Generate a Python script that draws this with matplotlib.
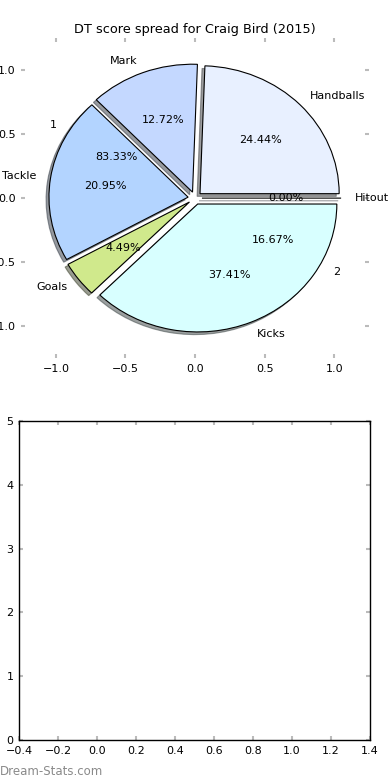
import matplotlib
matplotlib.use("Agg")
import matplotlib.pyplot as plt

# DT score breakdown (percent of total)
categories = ["Handballs", "Mark", "Tackle", "Goals", "Kicks", "Hitout"]
shares = [24.44, 12.72, 20.95, 4.49, 37.41, 0.00]
colors = ["#e8f0ff", "#c4d8ff", "#b3d4ff", "#d0e98c", "#d8ffff", "#e0e0ff"]

# second (hidden) pie that only leaves its labels behind
split_labels = ["1", "2"]
split_values = [83.33, 16.67]

pie_ticks = [-1.0, -0.5, 0.0, 0.5, 1.0]
bottom_xticks = [-0.4, -0.2, 0.0, 0.2, 0.4, 0.6, 0.8, 1.0, 1.2, 1.4]
bottom_yticks = [0, 1, 2, 3, 4, 5]

plt.rcParams["font.size"] = 8
plt.rcParams["font.family"] = "DejaVu Sans"

fig = plt.figure(figsize=(3.9, 7.8), dpi=100)


def style_ticks(ax):
    ax.tick_params(direction="in", length=3, width=1.5, color="#bbbbbb",
                   top=True, right=True, labelsize=8, pad=4)


# top: pie chart
ax1 = fig.add_axes([0.054, 0.541, 0.892, 0.410])
ax1.pie(shares, labels=categories, colors=colors, autopct="%1.2f%%",
        explode=[0.05] * len(shares),
        shadow={"ox": -0.015, "oy": -0.015, "shade": 0.75},
        wedgeprops={"linewidth": 0.8, "edgecolor": "black"})
wedges2, texts2, autotexts2 = ax1.pie(split_values, labels=split_labels,
                                      autopct="%1.2f%%", explode=[0.05, 0.05])
for w in wedges2:
    w.set_visible(False)
ax1.set_aspect("auto")
ax1.set_frame_on(False)
ax1.set_xlim(-1.25, 1.25)
ax1.set_ylim(-1.25, 1.25)
ax1.set_xticks(pie_ticks)
ax1.set_yticks(pie_ticks)
style_ticks(ax1)
ax1.set_title("DT score spread for Craig Bird (2015)", fontsize=9.3, pad=4)

# bottom: empty axes
ax2 = fig.add_axes([0.049, 0.0513, 0.9, 0.409])
ax2.set_xlim(-0.4, 1.4)
ax2.set_ylim(0, 5)
ax2.set_xticks(bottom_xticks)
ax2.set_yticks(bottom_yticks)
style_ticks(ax2)
for s in ax2.spines.values():
    s.set_linewidth(1.0)

fig.text(0.0, 0.006, "Dream-Stats.com", color="#8a8a8a", fontsize=8.5)

fig.savefig("out.png", dpi=100)
